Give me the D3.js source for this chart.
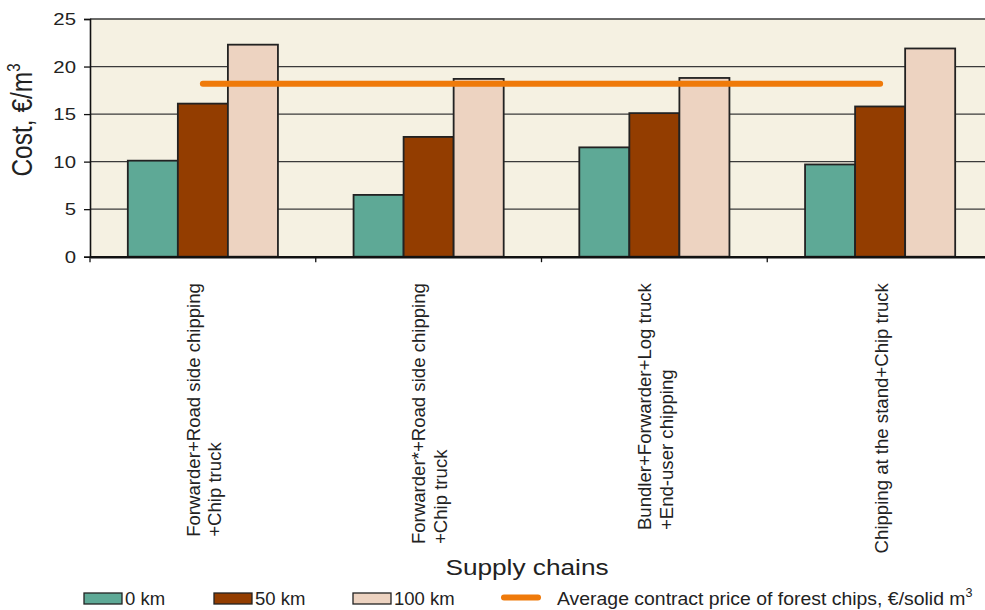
<!DOCTYPE html>
<html>
<head>
<meta charset="utf-8">
<script src="https://cdn.jsdelivr.net/npm/d3@7"></script>
<style>
  html, body { margin: 0; padding: 0; background: #fff; }
  svg { display: block; font-family: "Liberation Sans", Arial, sans-serif; }
</style>
</head>
<body>
<svg id="chart" width="985" height="610"></svg>
<script>
// Supply chain cost data, €/m³
const chains = [
  ["Forwarder+Road side chipping", "+Chip truck"],
  ["Forwarder*+Road side chipping", "+Chip truck"],
  ["Bundler+Forwarder+Log truck", "+End-user chipping"],
  ["Chipping at the stand+Chip truck"]
];
const distances = ["0 km", "50 km", "100 km"];
const cost0km   = [10.1, 6.5, 11.5, 9.7];
const cost50km  = [16.1, 12.6, 15.1, 15.8];
const cost100km = [22.3, 18.7, 18.8, 21.9];
const avgContractPrice = 18.2;
const yTicks = [0, 5, 10, 15, 20, 25];
const avgLabel = "Average contract price of forest chips, €/solid m";

const series = [cost0km, cost50km, cost100km];
const colors = ["#5EA996", "#933D00", "#EDD3C1"];

const svg = d3.select("#chart");
const plot = { left: 90, right: 993, top: 19, bottom: 256.7 };

const x0 = d3.scaleBand()
  .domain(d3.range(chains.length))
  .range([plot.left, plot.right]);
const bw = x0.bandwidth();
const x1 = d3.scaleBand()
  .domain(d3.range(distances.length))
  .range([bw * 0.1675, bw * 0.8325]);
const y = d3.scaleLinear().domain([0, 25]).range([plot.bottom, plot.top]);

// plot background
svg.append("rect")
  .attr("x", plot.left).attr("y", plot.top)
  .attr("width", plot.right - plot.left).attr("height", plot.bottom - plot.top)
  .attr("fill", "#F5F1E2");

// horizontal grid lines
svg.append("g")
  .selectAll("line")
  .data(yTicks.filter(d => d > 0))
  .join("line")
  .attr("x1", plot.left).attr("x2", plot.right)
  .attr("y1", d => y(d)).attr("y2", d => y(d))
  .attr("stroke", "#3a3a3a").attr("stroke-width", 1.3);

// bars
const groups = svg.append("g")
  .selectAll("g")
  .data(chains.map((c, i) => i))
  .join("g")
  .attr("transform", i => `translate(${x0(i)},0)`);

groups.selectAll("rect")
  .data(i => series.map((s, k) => ({ k, v: s[i] })))
  .join("rect")
  .attr("x", d => x1(d.k))
  .attr("width", x1.bandwidth())
  .attr("y", d => y(d.v))
  .attr("height", d => y(0) - y(d.v))
  .attr("fill", d => colors[d.k])
  .attr("stroke", "#222")
  .attr("stroke-width", 1.8);

// average contract price line
svg.append("line")
  .attr("x1", x0(0) + bw / 2).attr("x2", x0(chains.length - 1) + bw / 2)
  .attr("y1", y(avgContractPrice)).attr("y2", y(avgContractPrice))
  .attr("stroke", "#EF7A0A").attr("stroke-width", 6)
  .attr("stroke-linecap", "round");

// y axis
const yAxis = d3.axisLeft(y).tickValues(yTicks).tickSize(6).tickFormat(d3.format("d"));
const gy = svg.append("g").attr("transform", `translate(${plot.left},0)`).call(yAxis);
gy.select(".domain").attr("stroke", "#111").attr("stroke-width", 1.6);
gy.selectAll(".tick line").attr("stroke", "#111").attr("stroke-width", 1.3);
gy.selectAll(".tick text").remove();
gy.selectAll(".tick").append("text")
  .attr("font-size", 16.3).attr("fill", "#222")
  .attr("text-anchor", "end")
  .attr("transform", "translate(-14,5.8) scale(1.25,1)")
  .text(d => d);

// x axis
const xAxis = d3.axisBottom(x0).tickSize(0).tickFormat("");
const gx = svg.append("g").attr("transform", `translate(0,${plot.bottom})`).call(xAxis);
gx.select(".domain").attr("stroke", "#111").attr("stroke-width", 2.4);
gx.selectAll(".tick").remove();
gx.selectAll(".sep")
  .data(d3.range(chains.length + 1))
  .join("line")
  .attr("class", "sep")
  .attr("x1", i => plot.left + i * bw).attr("x2", i => plot.left + i * bw)
  .attr("y1", 0).attr("y2", 5.5)
  .attr("stroke", "#111").attr("stroke-width", 1.3);

// category labels, rotated; lines share a starting edge, block top aligned
const labTop = 283;
const labG = svg.append("g");
chains.forEach((lines, i) => {
  const cx = x0(i) + bw / 2 + 2;
  const lh = 21.5;
  const g = labG.append("g");
  const texts = lines.map(t => g.append("text")
    .attr("font-size", 15.5).attr("fill", "#222").text(t));
  const lens = texts.map(t => t.node().getComputedTextLength());
  const sAlong = 1.2, sAcross = 1.2;
  const maxLen = d3.max(lens) * sAlong;
  texts.forEach((t, j) => {
    const bx = cx + 5.5 + (j - (lines.length - 1) / 2) * lh;
    t.attr("transform", `translate(${bx},${labTop + maxLen}) scale(${sAcross},1) rotate(-90) scale(${sAlong},1)`);
  });
});

// axis titles
svg.append("text")
  .attr("font-size", 24.5).attr("fill", "#222")
  .attr("text-anchor", "middle")
  .attr("transform", "translate(32,120) scale(1.22,1) rotate(-90)")
  .call(t => {
    t.append("tspan").text("Cost, €/m");
    t.append("tspan").attr("font-size", 15).attr("dy", -10).text("3");
  });

svg.append("text")
  .attr("font-size", 21.5).attr("fill", "#222")
  .attr("text-anchor", "middle")
  .attr("transform", "translate(527,575) scale(1.22,1)")
  .text("Supply chains");

// legend
const legY = 593;
const legX = [84, 214, 353];
distances.forEach((d, k) => {
  svg.append("rect")
    .attr("x", legX[k]).attr("y", legY).attr("width", 38).attr("height", 11)
    .attr("fill", colors[k]).attr("stroke", "#222").attr("stroke-width", 1.3);
  svg.append("text")
    .attr("font-size", 18.5).attr("fill", "#222")
    .attr("transform", `translate(${legX[k] + 41},${legY + 12}) scale(1.0,1)`)
    .text(d);
});
svg.append("line")
  .attr("x1", 504).attr("x2", 538).attr("y1", 597.5).attr("y2", 597.5)
  .attr("stroke", "#EF7A0A").attr("stroke-width", 6).attr("stroke-linecap", "round");
svg.append("text")
  .attr("font-size", 18.5).attr("fill", "#222")
  .attr("transform", `translate(557,${legY + 12}) scale(1.05,1)`)
  .call(t => {
    t.append("tspan").text(avgLabel);
    t.append("tspan").attr("font-size", 12).attr("dy", -8).text("3");
  });
</script>
</body>
</html>
